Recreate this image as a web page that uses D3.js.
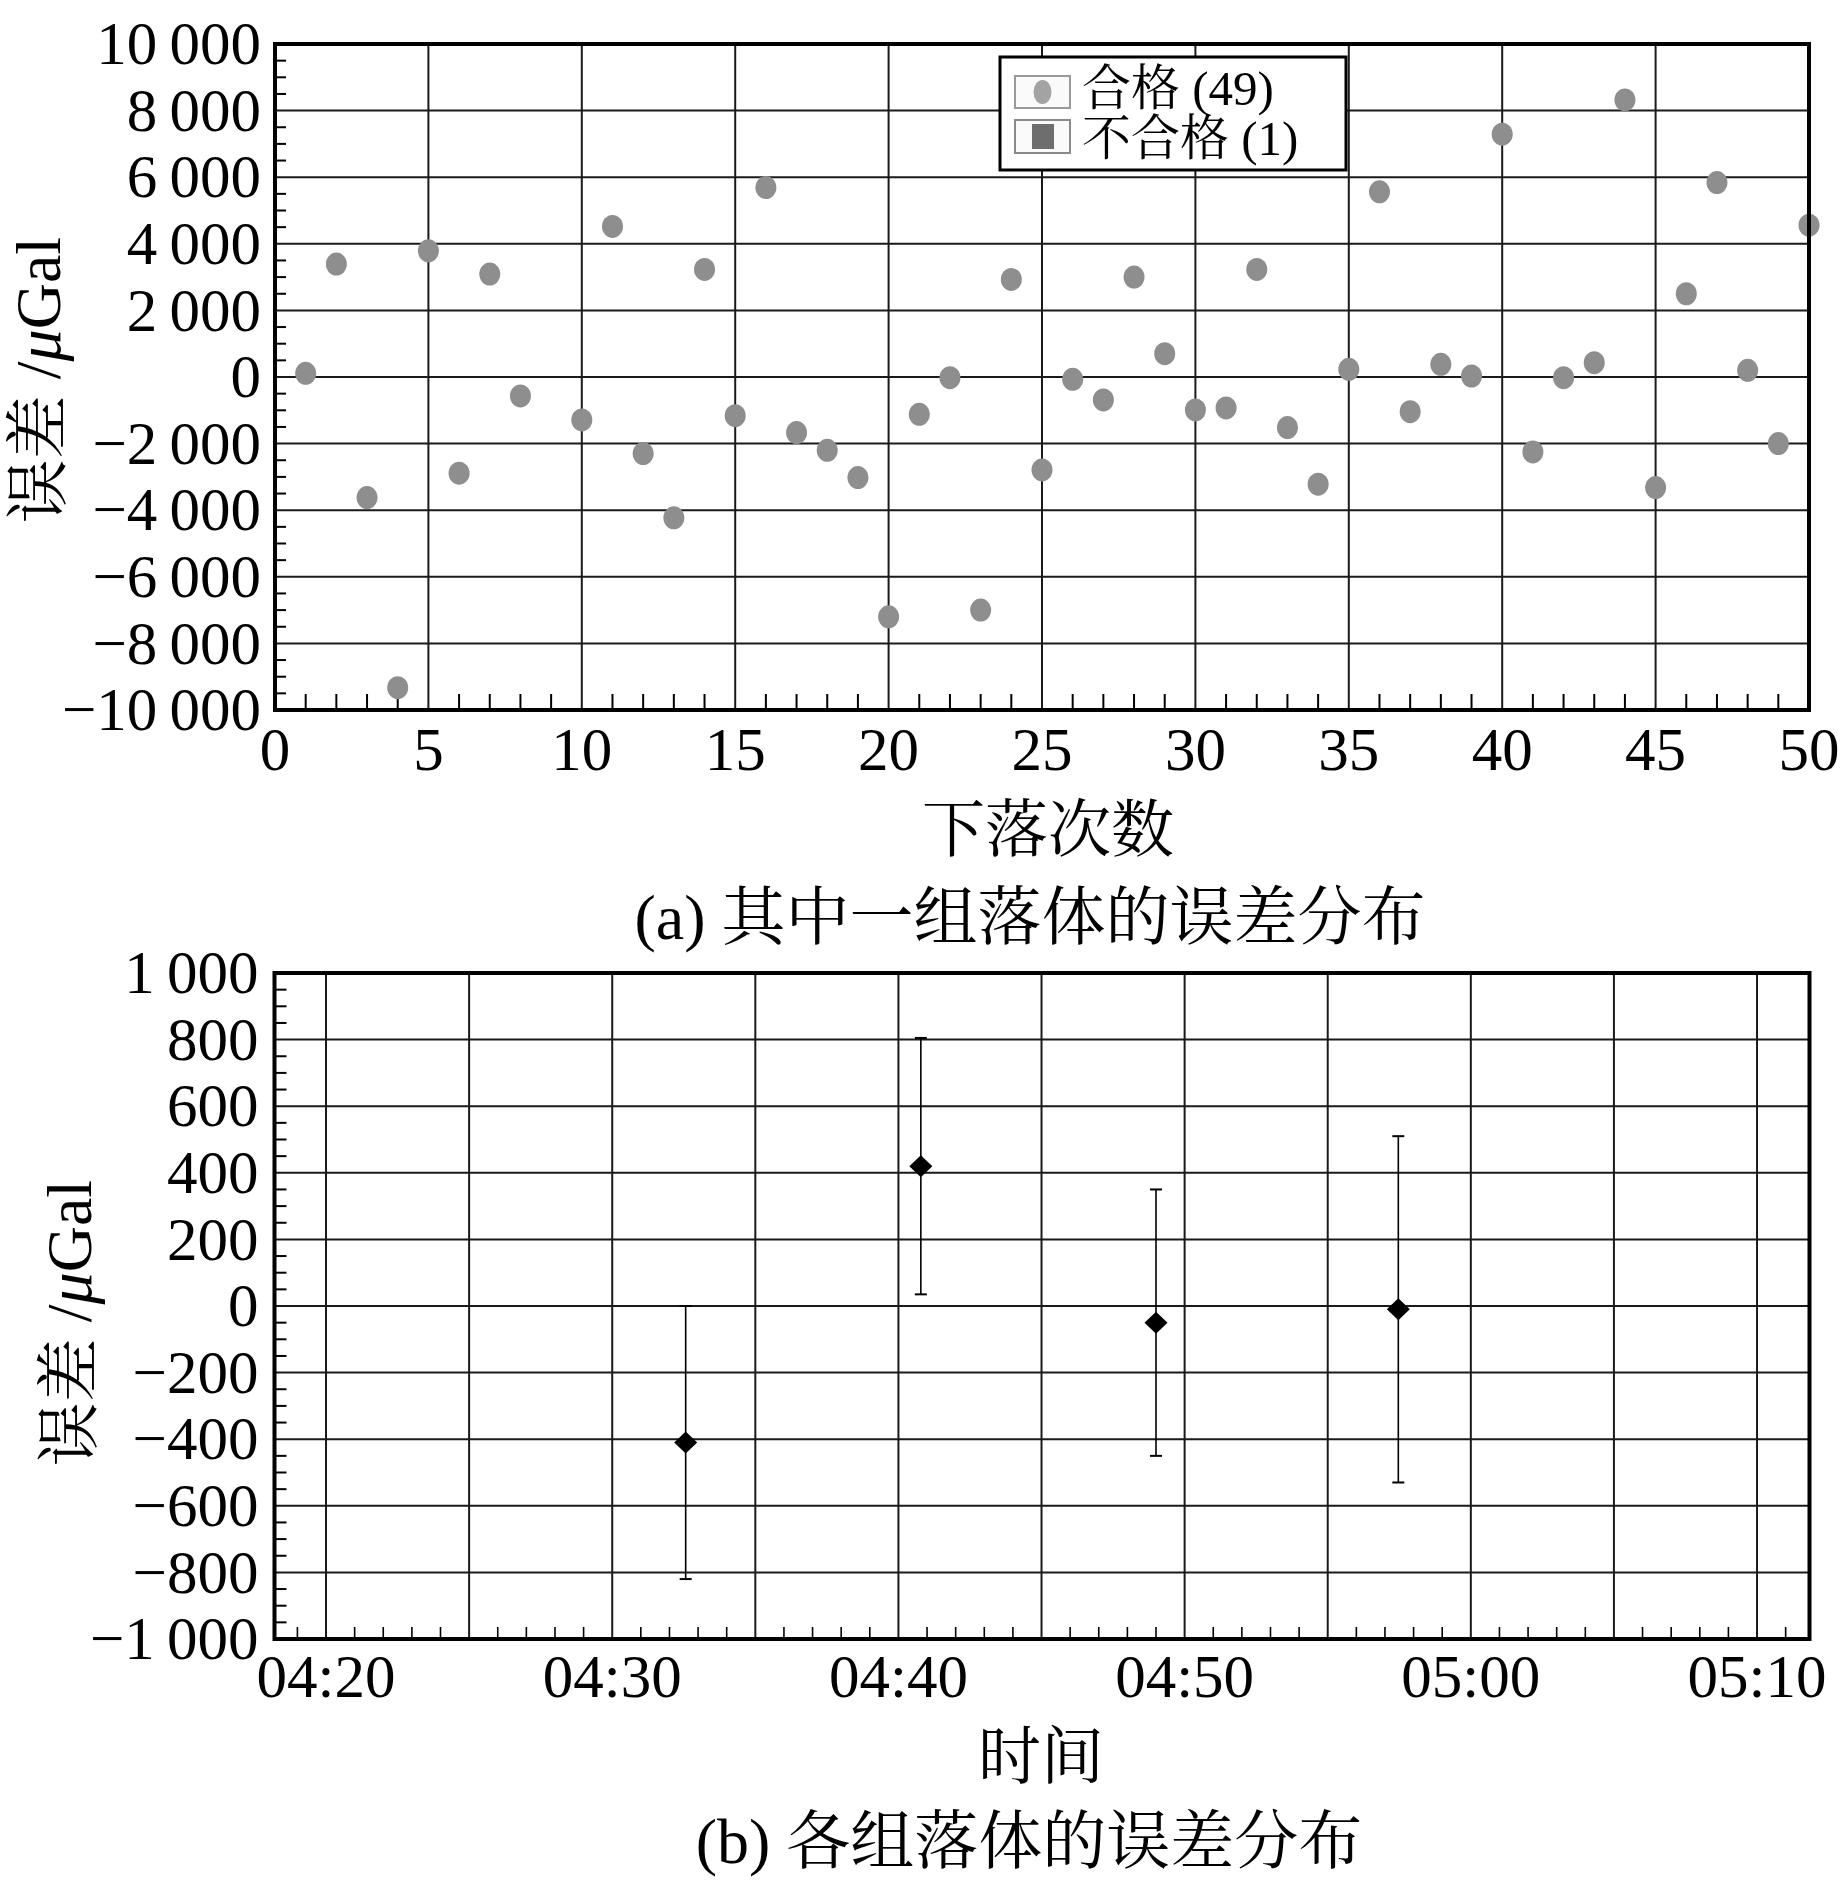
<!DOCTYPE html>
<html>
<head>
<meta charset="utf-8">
<script src="https://cdn.jsdelivr.net/npm/d3@7"></script>
<style>
  html, body { margin: 0; padding: 0; background: #fff; }
  svg { display: block; }
  .serif { font-family: "Liberation Serif", "Times New Roman", "Noto Serif CJK SC", "Noto Sans CJK SC", serif; }
</style>
</head>
<body>
<script>
// ---------- Data: chart (a) ----------
const dropIndex = [1,2,3,4,5,6,7,8,10,11,12,13,14,15,16,17,18,19,20,21,22,23,24,25,26,27,28,29,30,31,32,33,34,35,36,37,38,39,40,41,42,43,44,45,46,47,48,49,50];
const dropError = [110,3390,-3620,-9330,3790,-2890,3090,-570,-1290,4520,-2300,-4230,3230,-1160,5690,-1670,-2200,-3020,-7200,-1120,-20,-7000,2930,-2790,-70,-690,3000,700,-990,-930,3230,-1520,-3220,230,5560,-1040,380,30,7290,-2250,-20,430,8320,-3320,2500,5840,200,-2000,4560];
const xTicksA = [0,5,10,15,20,25,30,35,40,45,50];
const yTicksA = [-10000,-8000,-6000,-4000,-2000,0,2000,4000,6000,8000,10000];
const legendLabels = ["合格 (49)", "不合格 (1)"];

// ---------- Data: chart (b) ----------
const groupTimes = ["04:32:34", "04:40:47", "04:49:00", "04:57:28"];
const groupMean  = [-410, 420, -50, -10];
const groupErr   = [410, 385, 400, 520];
const xTicksB = ["04:20","04:30","04:40","04:50","05:00","05:10"];
const yTicksB = [-1000,-800,-600,-400,-200,0,200,400,600,800,1000];

// ---------- helpers ----------
const fmt = v => {
  const s = Math.abs(v).toString().replace(/\B(?=(\d{3})+(?!\d))/g, "\u2009");
  return (v < 0 ? "\u2212" : "") + s;
};
const parseT = s => { const p = s.split(":").map(Number); return new Date(2000,0,1,p[0],p[1],p[2]||0); };

const W = 1843, H = 1890;
const svg = d3.select("body").append("svg").attr("width", W).attr("height", H)
  .attr("class", "serif");

const FONT = 61;
const GRID = "#1a1a1a";

// =============== Chart (a) ===============
{
  const L = 275, R = 1809, T = 44, B = 710;
  const x = d3.scaleLinear().domain([0,50]).range([L,R]);
  const y = d3.scaleLinear().domain([-10000,10000]).range([B,T]);
  const g = svg.append("g");

  // grid
  g.selectAll(".vg").data(xTicksA.filter(d => d>0 && d<50)).join("line")
    .attr("x1", d=>x(d)).attr("x2", d=>x(d)).attr("y1", T).attr("y2", B)
    .attr("stroke", GRID).attr("stroke-width", 2);
  g.selectAll(".hg").data(yTicksA.filter(d => d>-10000 && d<10000)).join("line")
    .attr("y1", d=>y(d)).attr("y2", d=>y(d)).attr("x1", L).attr("x2", R)
    .attr("stroke", GRID).attr("stroke-width", 2);

  // minor ticks
  g.selectAll(".mx").data(d3.range(1,50).filter(d => d%5!==0)).join("line")
    .attr("x1", d=>x(d)).attr("x2", d=>x(d)).attr("y1", B).attr("y2", B-16)
    .attr("stroke", "#000").attr("stroke-width", 2);
  g.selectAll(".my").data(d3.range(-9500,10000,500).filter(d => d%2000!==0)).join("line")
    .attr("y1", d=>y(d)).attr("y2", d=>y(d)).attr("x1", L).attr("x2", L+11)
    .attr("stroke", "#000").attr("stroke-width", 2);

  // points
  g.selectAll(".pt").data(dropIndex.map((d,i)=>[d, dropError[i]])).join("ellipse")
    .attr("cx", d=>x(d[0])).attr("cy", d=>y(d[1])).attr("rx", 10.5).attr("ry", 11.5)
    .attr("fill", "#8e8e8e");

  // frame
  g.append("rect").attr("x", L).attr("y", T).attr("width", R-L).attr("height", B-T)
    .attr("fill", "none").attr("stroke", "#000").attr("stroke-width", 4);

  // tick labels
  g.selectAll(".yl").data(yTicksA).join("text")
    .attr("x", L-14).attr("y", d=>y(d)).attr("dy", "0.33em")
    .attr("text-anchor", "end").attr("font-size", FONT).text(fmt);
  g.selectAll(".xl").data(xTicksA).join("text")
    .attr("x", d=>x(d)).attr("y", 770)
    .attr("text-anchor", "middle").attr("font-size", FONT).text(d=>d);

  // axis titles
  g.append("text").attr("x", (L+R)/2 + 6).attr("y", 851).attr("text-anchor", "middle")
    .attr("font-size", 63).text("下落次数");
  const yt = g.append("text").attr("transform", "translate(60,380) rotate(-90)")
    .attr("text-anchor", "middle").attr("font-size", 64);
  yt.append("tspan").text("误差 /");
  yt.append("tspan").attr("font-style", "italic").text("μ");
  yt.append("tspan").text("Gal");

  // caption
  g.append("text").attr("x", 1030).attr("y", 939).attr("text-anchor", "middle")
    .attr("font-size", 64).text("(a) 其中一组落体的误差分布");

  // legend
  const lg = g.append("g");
  lg.append("rect").attr("x", 1000).attr("y", 57).attr("width", 346).attr("height", 113)
    .attr("fill", "#fff").attr("stroke", "#000").attr("stroke-width", 3);
  lg.append("rect").attr("x", 1015).attr("y", 76).attr("width", 55).attr("height", 32)
    .attr("fill", "#fafafa").attr("stroke", "#9a9a9a").attr("stroke-width", 2);
  lg.append("ellipse").attr("cx", 1042.5).attr("cy", 92).attr("rx", 9).attr("ry", 12)
    .attr("fill", "#a3a3a3");
  lg.append("rect").attr("x", 1015).attr("y", 120).attr("width", 55).attr("height", 33)
    .attr("fill", "#fafafa").attr("stroke", "#8a8a8a").attr("stroke-width", 2);
  lg.append("rect").attr("x", 1032).attr("y", 124).attr("width", 22).attr("height", 25)
    .attr("fill", "#6e6e6e");
  lg.selectAll(".lt").data(legendLabels).join("text")
    .attr("x", 1082).attr("y", (d,i)=> 105 + i*50)
    .attr("font-size", 49).text(d=>d);
}

// =============== Chart (b) ===============
{
  const L = 274.5, R = 1809.5, T = 973, B = 1639;
  const x = d3.scaleTime().domain([parseT("04:18:12"), parseT("05:11:50")]).range([L,R]);
  const y = d3.scaleLinear().domain([-1000,1000]).range([B,T]);
  const g = svg.append("g");

  const major = d3.timeMinute.every(5).range(parseT("04:20"), parseT("05:11"));
  g.selectAll(".vg").data(major).join("line")
    .attr("x1", d=>x(d)).attr("x2", d=>x(d)).attr("y1", T).attr("y2", B)
    .attr("stroke", GRID).attr("stroke-width", 2);
  g.selectAll(".hg").data(yTicksB.filter(d => d>-1000 && d<1000)).join("line")
    .attr("y1", d=>y(d)).attr("y2", d=>y(d)).attr("x1", L).attr("x2", R)
    .attr("stroke", GRID).attr("stroke-width", 2);

  const minor = d3.timeMinute.range(parseT("04:18:30"), parseT("05:11:50"))
    .filter(d => d.getMinutes()%5 !== 0);
  g.selectAll(".mx").data(minor).join("line")
    .attr("x1", d=>x(d)).attr("x2", d=>x(d)).attr("y1", B).attr("y2", B-12)
    .attr("stroke", "#000").attr("stroke-width", 1.6);
  g.selectAll(".my").data(d3.range(-950,1000,50).filter(d => d%200!==0)).join("line")
    .attr("y1", d=>y(d)).attr("y2", d=>y(d)).attr("x1", L).attr("x2", L+12)
    .attr("stroke", "#000").attr("stroke-width", 2);

  const pts = groupTimes.map((t,i)=>({t: parseT(t), m: groupMean[i], e: groupErr[i]}));
  // error bars
  g.selectAll(".eb").data(pts).join("line")
    .attr("x1", d=>x(d.t)).attr("x2", d=>x(d.t)).attr("y1", d=>y(d.m+d.e)).attr("y2", d=>y(d.m-d.e))
    .attr("stroke", "#000").attr("stroke-width", 1.6);
  ["top","bot"].forEach(k => {
    g.selectAll(".cap"+k).data(pts).join("line")
      .attr("x1", d=>x(d.t)-6).attr("x2", d=>x(d.t)+6)
      .attr("y1", d=>y(k==="top" ? d.m+d.e : d.m-d.e)).attr("y2", d=>y(k==="top" ? d.m+d.e : d.m-d.e))
      .attr("stroke", "#000").attr("stroke-width", 2);
  });
  // diamonds
  g.selectAll(".dm").data(pts).join("path")
    .attr("transform", d=>`translate(${x(d.t)},${y(d.m)})`)
    .attr("d", "M0,-11L11.5,0L0,11L-11.5,0Z").attr("fill", "#000");

  g.append("rect").attr("x", L).attr("y", T).attr("width", R-L).attr("height", B-T)
    .attr("fill", "none").attr("stroke", "#000").attr("stroke-width", 4);

  g.selectAll(".yl").data(yTicksB).join("text")
    .attr("x", L-16).attr("y", d=>y(d)).attr("dy", "0.33em")
    .attr("text-anchor", "end").attr("font-size", FONT).text(fmt);
  g.selectAll(".xl").data(xTicksB).join("text")
    .attr("x", d=>x(parseT(d))).attr("y", 1697)
    .attr("text-anchor", "middle").attr("font-size", FONT).text(d=>d);

  g.append("text").attr("x", 1041).attr("y", 1778).attr("text-anchor", "middle")
    .attr("font-size", 63).text("时间");
  const yt = g.append("text").attr("transform", "translate(91,1323) rotate(-90)")
    .attr("text-anchor", "middle").attr("font-size", 64);
  yt.append("tspan").text("误差 /");
  yt.append("tspan").attr("font-style", "italic").text("μ");
  yt.append("tspan").text("Gal");

  g.append("text").attr("x", 1029).attr("y", 1863).attr("text-anchor", "middle")
    .attr("font-size", 64).text("(b) 各组落体的误差分布");
}
</script>
</body>
</html>
